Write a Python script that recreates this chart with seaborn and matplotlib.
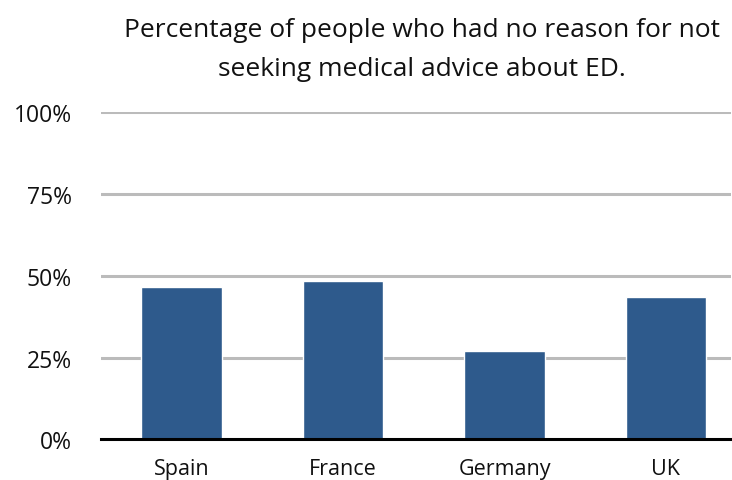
import matplotlib
matplotlib.use("Agg")
import matplotlib.pyplot as plt
import seaborn as sns
import pandas as pd

countries = ["Spain", "France", "Germany", "UK"]
no_reason_pct = [46.5, 48.4, 27.0, 43.5]
y_ticks = [0, 25, 50, 75, 100]
y_tick_labels = ["0%", "25%", "50%", "75%", "100%"]

sns.set_theme(style="white")
plt.rcParams["font.family"] = ["Open Sans", "DejaVu Sans"]

df = pd.DataFrame({"country": countries, "pct": no_reason_pct})

fig = plt.figure(figsize=(7.32, 4.81), dpi=100)
ax = fig.add_axes([0.138, 0.0842, 0.86, 0.6808])

sns.barplot(data=df, x="country", y="pct", color="#2E5A8C", saturation=1,
            width=0.5, ax=ax, zorder=3)

ax.set_ylim(0, 100)
ax.set_xlim(-0.5, 3.4)
ax.set_yticks(y_ticks)
ax.set_yticklabels(y_tick_labels)
ax.set_xlabel("")
ax.set_ylabel("")

for y in y_ticks[1:]:
    ax.axhline(y, color="#BBBBBB", linewidth=2.2, zorder=1)

for s in ["top", "right", "left"]:
    ax.spines[s].set_visible(False)
ax.spines["bottom"].set_color("black")
ax.spines["bottom"].set_linewidth(2.2)
ax.spines["bottom"].set_zorder(4)

ax.tick_params(axis="y", length=0, pad=21, labelsize=16.5, labelcolor="#111111")
ax.tick_params(axis="x", length=0, pad=13, labelsize=15.5, labelcolor="#111111")

fig.text(0.577, 0.962, "Percentage of people who had no reason for not\nseeking medical advice about ED.",
         ha="center", va="top", fontsize=19, color="#111111", linespacing=1.7)

fig.savefig("out.png", dpi=100, facecolor="white")
